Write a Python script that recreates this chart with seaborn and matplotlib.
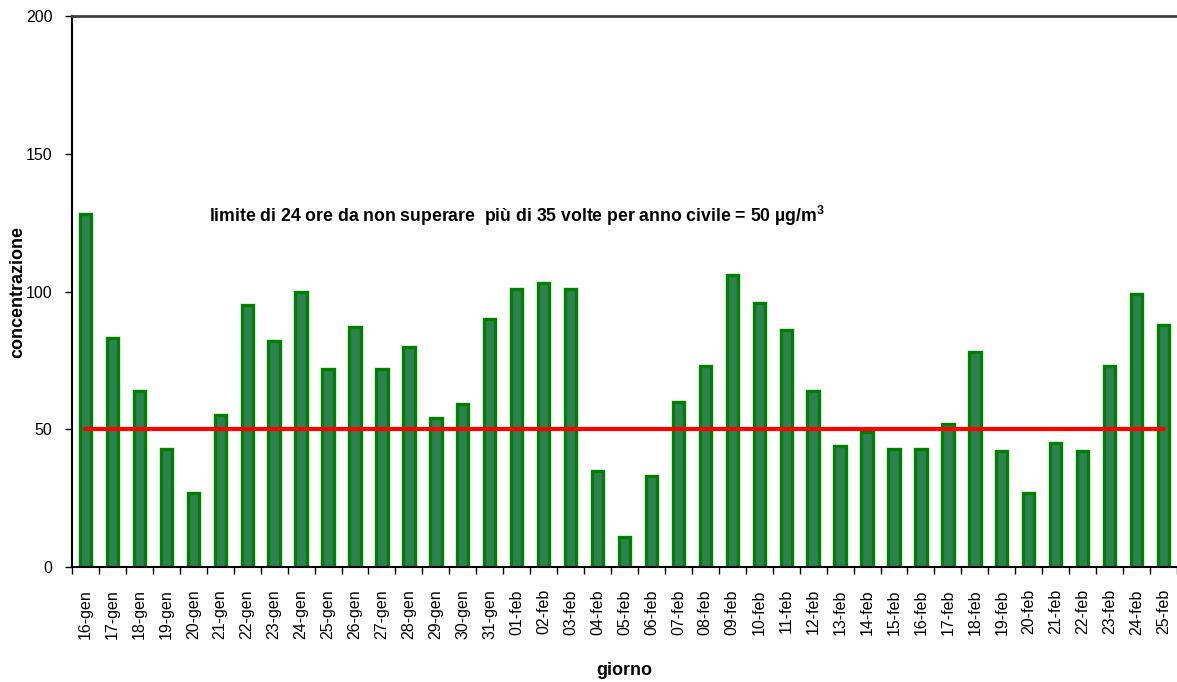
import matplotlib
matplotlib.use("Agg")
import matplotlib.pyplot as plt
import seaborn as sns
import numpy as np
import pandas as pd

days = ["16-gen", "17-gen", "18-gen", "19-gen", "20-gen", "21-gen", "22-gen", "23-gen",
        "24-gen", "25-gen", "26-gen", "27-gen", "28-gen", "29-gen", "30-gen", "31-gen",
        "01-feb", "02-feb", "03-feb", "04-feb", "05-feb", "06-feb", "07-feb", "08-feb",
        "09-feb", "10-feb", "11-feb", "12-feb", "13-feb", "14-feb", "15-feb", "16-feb",
        "17-feb", "18-feb", "19-feb", "20-feb", "21-feb", "22-feb", "23-feb", "24-feb",
        "25-feb"]
concentrazione = [128, 83, 64, 43, 27, 55, 95, 82, 100, 72, 87, 72, 80, 54, 59, 90,
                  101, 103, 101, 35, 11, 33, 60, 73, 106, 96, 86, 64, 44, 49, 43, 43,
                  52, 78, 42, 27, 45, 42, 73, 99, 88]
limite = [50] * len(days)
y_ticks = [0, 50, 100, 150, 200]
annotation = "limite di 24 ore da non superare  più di 35 volte per anno civile = 50 µg/m$^\\mathbf{3}$"

sns.set_style("ticks")
plt.rcParams["font.family"] = ["Liberation Sans", "DejaVu Sans"]
plt.rcParams["mathtext.fontset"] = "custom"
plt.rcParams["mathtext.rm"] = "Liberation Sans"
plt.rcParams["mathtext.bf"] = "Liberation Sans:bold"
plt.rcParams["text.color"] = "black"
plt.rcParams["axes.labelcolor"] = "black"
plt.rcParams["xtick.color"] = "black"
plt.rcParams["ytick.color"] = "black"

df = pd.DataFrame({"giorno": days, "concentrazione": concentrazione, "limite": limite})

fig = plt.figure(figsize=(11.77, 6.82), dpi=100)
ax = fig.add_axes([72 / 1177, 1 - 567 / 682, 1 - 72 / 1177, (567 - 16) / 682])

sns.barplot(data=df, x="giorno", y="concentrazione", color="#2f8052", saturation=1,
            width=0.42, edgecolor="#008000", linewidth=2.4, ax=ax, zorder=2)
sns.lineplot(data=df, x="giorno", y="limite", color="#ff0000", linewidth=3,
             sort=False, ax=ax, zorder=3)

n = len(days)
ax.set_xlim(-0.5, n - 0.5)
ax.set_ylim(0, 200)
ax.set_yticks(y_ticks)
ax.set_yticklabels([str(v) for v in y_ticks], fontsize=11.5, color="black")
ax.tick_params(axis="y", length=5, width=1, pad=9, colors="black")

ax.set_xticks(range(n))
ax.set_xticklabels(days, rotation=90, fontsize=11.5, color="black")
ax.tick_params(axis="x", which="major", length=0, pad=16)
ax.set_xticks(np.arange(-0.5, n, 1.0), minor=True)
ax.tick_params(axis="x", which="minor", length=5, width=1, color="black")

for s in ["left", "bottom"]:
    ax.spines[s].set_color("black")
    ax.spines[s].set_linewidth(1.5)
ax.spines["top"].set_color("#404040")
ax.spines["top"].set_linewidth(2)
ax.spines["right"].set_visible(False)

ax.set_xlabel("giorno", fontsize=13, fontweight="bold", color="black")
ax.set_ylabel("concentrazione", fontsize=13, fontweight="bold", color="black")
ax.xaxis.set_label_coords(0.5, -0.187)
ax.yaxis.set_label_coords(-0.049, 0.5)
ax.xaxis.label.set_va("center")
ax.yaxis.label.set_va("center")

ax.text(4.58, 127.5, annotation, fontsize=12.7, fontweight="bold", ha="left",
        va="center", color="black")

fig.savefig("out.png", dpi=100, facecolor="white")
